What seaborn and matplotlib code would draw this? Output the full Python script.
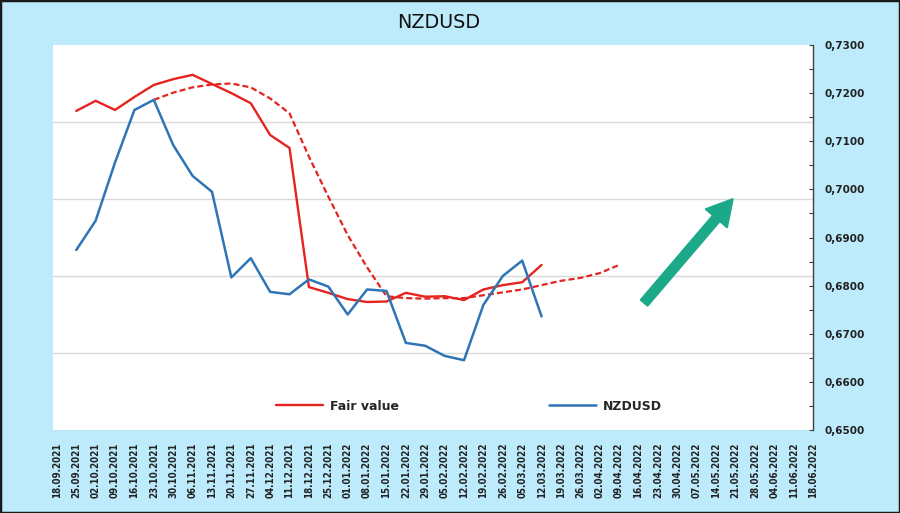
import numpy as np
import pandas as pd
import matplotlib
matplotlib.use("Agg")
import matplotlib.pyplot as plt
import seaborn as sns
from matplotlib.ticker import FuncFormatter, MultipleLocator
from matplotlib.patches import Rectangle, FancyArrowPatch

# ====== DATA ======
dates = [
    "18.09.2021", "25.09.2021", "02.10.2021", "09.10.2021", "16.10.2021",
    "23.10.2021", "30.10.2021", "06.11.2021", "13.11.2021", "20.11.2021",
    "27.11.2021", "04.12.2021", "11.12.2021", "18.12.2021", "25.12.2021",
    "01.01.2022", "08.01.2022", "15.01.2022", "22.01.2022", "29.01.2022",
    "05.02.2022", "12.02.2022", "19.02.2022", "26.02.2022", "05.03.2022",
    "12.03.2022", "19.03.2022", "26.03.2022", "02.04.2022", "09.04.2022",
    "16.04.2022", "23.04.2022", "30.04.2022", "07.05.2022", "14.05.2022",
    "21.05.2022", "28.05.2022", "04.06.2022", "11.06.2022", "18.06.2022",
]

# fair value, weekly from 25.09.2021 to 12.03.2022
fair_value = [0.7163, 0.7184, 0.7165, 0.7192, 0.7217, 0.7229, 0.7238, 0.7219,
              0.7200, 0.7179, 0.7113, 0.7086, 0.6797, 0.6785, 0.6772, 0.6766,
              0.6767, 0.6785, 0.6777, 0.6778, 0.6770, 0.6792, 0.6801, 0.6807,
              0.6843]
fair_start = 1

# shifted fair value (dashed), from 23.10.2021 to 09.04.2022
fair_shifted = [0.7186, 0.7201, 0.7212, 0.7218, 0.7220, 0.7212, 0.7189, 0.7158,
                0.7068, 0.6985, 0.6905, 0.6838, 0.6778, 0.6774, 0.6773, 0.6774,
                0.6774, 0.6780, 0.6786, 0.6792, 0.6801, 0.6810, 0.6816, 0.6826,
                0.6843]
shifted_start = 5

# NZDUSD, weekly from 25.09.2021 to 12.03.2022
nzdusd = [0.6874, 0.6935, 0.7056, 0.7165, 0.7186, 0.7092, 0.7028, 0.6995,
          0.6817, 0.6857, 0.6787, 0.6782, 0.6813, 0.6798, 0.6740, 0.6792,
          0.6789, 0.6681, 0.6675, 0.6654, 0.6645, 0.6760, 0.6820, 0.6852,
          0.6736]
nzd_start = 1


def to_frame(values, start):
    idx = np.arange(start, start + len(values))
    return pd.DataFrame({"x": idx, "y": values})


# ====== STYLE ======
BG = "#BDEBFB"
RED = "#E5231F"
BLUE = "#2E75B6"
GREEN = "#1BA98A"

sns.set_theme(style="white")
plt.rcParams["font.family"] = ["DejaVu Sans"]

fig = plt.figure(figsize=(9, 5.13), dpi=100, facecolor=BG)
ax = fig.add_axes([53 / 900, 83 / 513, (813 - 53) / 900, (468 - 83) / 513])
ax.set_facecolor("white")

# grid lines of the hidden primary axis
for f in [0.2, 0.4, 0.6, 0.8]:
    ax.plot([0, 1], [f, f], transform=ax.transAxes, color="#D9D9D9", lw=1, zorder=0)

sns.lineplot(data=to_frame(fair_shifted, shifted_start), x="x", y="y", ax=ax,
             color=RED, lw=1.6, linestyle=(0, (2.7, 1.4)), label="_nolegend_")
sns.lineplot(data=to_frame(fair_value, fair_start), x="x", y="y", ax=ax,
             color=RED, lw=1.7, label="Fair value")
sns.lineplot(data=to_frame(nzdusd, nzd_start), x="x", y="y", ax=ax,
             color=BLUE, lw=1.8, label="NZDUSD")

ax.set_xlim(-0.2, len(dates) - 1)
ax.set_ylim(0.65, 0.73)
ax.set_xlabel("")
ax.set_ylabel("")

# x axis
ax.set_xticks(np.arange(len(dates)))
ax.set_xticklabels(dates, rotation=90, fontsize=7, fontweight="bold",
                   fontstretch="condensed", color="#222222")
ax.tick_params(axis="x", length=0, pad=9)

# right value axis
ax.yaxis.tick_right()
ax.yaxis.set_major_locator(MultipleLocator(0.01))
ax.yaxis.set_minor_locator(MultipleLocator(0.005))
ax.yaxis.set_major_formatter(FuncFormatter(lambda v, p: f"{v:.4f}".replace(".", ",")))
ax.tick_params(axis="y", which="both", direction="in", length=3, width=0.8,
               color="#404040", right=True, left=False)
ax.tick_params(axis="y", which="major", labelsize=7.5, pad=8, labelcolor="#222222")
for lab in ax.get_yticklabels():
    lab.set_fontweight("bold")

for side in ["top", "left", "bottom"]:
    ax.spines[side].set_visible(False)
ax.spines["right"].set_color("#404040")
ax.spines["right"].set_linewidth(1)

# legend
leg = ax.legend(loc="center", bbox_to_anchor=(0.547, 0.062), ncol=2, frameon=False,
                handlelength=3.8, handletextpad=0.5, columnspacing=12,
                prop={"size": 9, "weight": "bold"})

# arrow
arrow = FancyArrowPatch((30.2, 0.6760), (34.95, 0.6984),
                        arrowstyle="simple,head_width=1.0,head_length=0.9,tail_width=0.32",
                        mutation_scale=20, color=GREEN, lw=1.5, joinstyle="round",
                        capstyle="round", zorder=5)
ax.add_patch(arrow)

# title
fig.text(439 / 900, 1 - 22 / 513, "NZDUSD", ha="center", va="center", fontsize=13.8,
         color="#111111")

# outer frame
fig.patches.append(Rectangle((0, 0), 1, 1, transform=fig.transFigure, fill=False,
                             edgecolor="#1a1a1a", lw=2.5))

fig.savefig("out.png", dpi=100, facecolor=BG)
